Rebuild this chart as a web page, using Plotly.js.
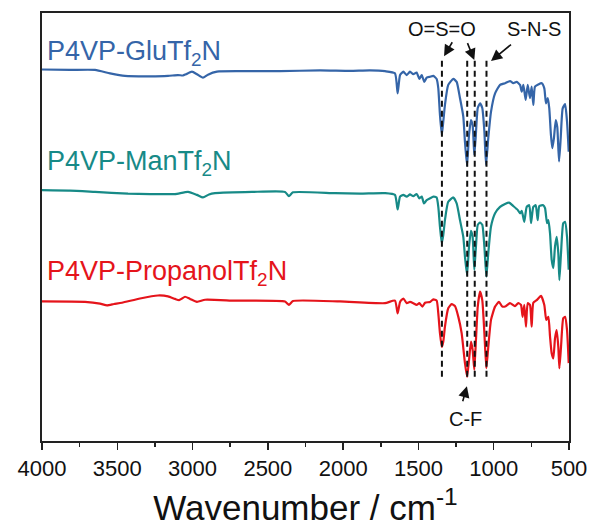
<!DOCTYPE html>
<html>
<head>
<meta charset="utf-8">
<script src="https://cdn.plot.ly/plotly-3.0.1.min.js"></script>
<style>
  html, body { margin: 0; padding: 0; background: #fff; }
  #chart { width: 595px; height: 529px; }
</style>
</head>
<body>
<div id="chart"></div>
<script>
// FTIR spectra of the three Tf2N polymers, stacked (transmittance, arbitrary units)
const seriesNames = ["P4VP-GluTf<sub>2</sub>N", "P4VP-ManTf<sub>2</sub>N", "P4VP-PropanolTf<sub>2</sub>N"];
const seriesColors = ["#3565a8", "#178a87", "#e5141b"];

const wnGlu = [4000, 3814, 3648, 3548, 3449, 3283, 3163, 3097, 3064, 3044, 3004, 2971, 2931, 2898, 2838, 2685, 2419, 2154, 1954, 1822, 1722,
  1656, 1638, 1622, 1600, 1578, 1556, 1534, 1512, 1494, 1478, 1461, 1445, 1423, 1401, 1379, 1368, 1357, 1345, 1335, 1324, 1302, 1268, 1246,
  1224, 1202, 1191, 1177, 1164, 1151, 1140, 1129, 1120, 1106, 1091, 1076, 1062, 1051, 1036, 1018, 991, 958, 925, 892, 870, 847, 825, 814,
  803, 788, 774, 759, 748, 737, 726, 704, 681, 664, 653, 641, 631, 620, 611, 600, 588, 578, 566, 555, 542, 526, 513, 502];
const tGlu = [86.8, 86.7, 86.7, 85.9, 85.3, 85.2, 85.3, 85.5, 85.4, 85.7, 86.3, 85.7, 84.9, 85.6, 86.3, 86.4, 86.4, 86.6, 86.5, 86.6, 86.4,
  85.9, 81.2, 85.5, 86.3, 85.5, 86.3, 85.7, 86.1, 84.6, 85.5, 83.9, 84.9, 85.1, 85.3, 84.6, 82.4, 76.2, 71.5, 74.6, 78.5, 83.2, 84.6, 83.9,
  80.1, 75.8, 69.9, 64.3, 71.5, 75.0, 73.8, 66.8, 70.8, 77.8, 78.9, 77.8, 72.3, 64.5, 70.8, 76.9, 81.2, 83.2, 83.6, 84.1, 83.6, 83.9, 83.2, 81.6,
  83.2, 79.7, 83.2, 80.1, 82.8, 78.5, 82.8, 83.3, 83.6, 82.4, 78.9, 80.1, 77.7, 71.5, 68.4, 70.8, 75.0, 73.4, 65.3, 70.8, 77.7, 78.7, 74.6, 67.6];

const wnMan = [4000, 3814, 3648, 3429, 3283, 3117, 3030, 2971, 2931, 2891, 2851, 2605, 2386, 2360, 2333, 2054, 1888, 1722,
  1656, 1638, 1622, 1600, 1578, 1556, 1534, 1512, 1494, 1478, 1463, 1445, 1423, 1401, 1379, 1368, 1357, 1345, 1335, 1324, 1302, 1268, 1246,
  1224, 1202, 1191, 1177, 1164, 1151, 1140, 1129, 1118, 1106, 1091, 1076, 1062, 1049, 1036, 1018, 991, 958, 925, 898, 870, 841, 825, 814,
  797, 781, 764, 752, 737, 721, 708, 697, 671, 659, 646, 637, 626, 615, 604, 593, 582, 571, 564, 553, 538, 526, 513, 502];
const tMan = [58.6, 58.5, 58.2, 57.8, 57.7, 57.7, 58.2, 57.5, 56.9, 57.6, 57.9, 58.2, 58.2, 57.2, 58.1, 57.9, 57.8, 57.9,
  57.5, 54.1, 57.1, 57.5, 57.1, 57.6, 57.2, 57.7, 56.7, 57.1, 55.5, 56.3, 56.7, 57.1, 56.9, 54.7, 50.1, 46.2, 48.1, 51.6, 55.9, 56.9, 55.5,
  51.6, 47.7, 43.1, 38.8, 45.4, 49.1, 47.7, 40.0, 45.4, 50.5, 51.0, 50.5, 45.4, 38.4, 43.9, 50.1, 53.2, 54.7, 55.4, 55.7, 54.9, 54.0, 53.2, 53.8,
  51.2, 54.7, 55.1, 50.9, 54.7, 55.1, 51.6, 54.9, 55.1, 54.4, 50.9, 51.6, 48.5, 42.3, 40.4, 45.4, 47.7, 43.9, 37.6, 43.9, 50.9, 51.2, 47.7, 40.0];

const wnProp = [4000, 3714, 3615, 3568, 3522, 3469, 3349, 3230, 3163, 3117, 3090, 3070, 3050, 3017, 2971, 2917, 2718, 2386, 2360, 2333, 2021, 1722,
  1656, 1638, 1622, 1600, 1578, 1556, 1534, 1512, 1494, 1474, 1456, 1423, 1401, 1379, 1368, 1357, 1345, 1335, 1324, 1302, 1279, 1257, 1235,
  1213, 1191, 1177, 1164, 1151, 1140, 1129, 1118, 1106, 1091, 1076, 1062, 1049, 1036, 1018, 991, 965, 943, 920, 892, 859, 837, 819, 808,
  797, 786, 774, 759, 748, 737, 715, 686, 664, 651, 637, 626, 615, 604, 593, 582, 571, 564, 553, 538, 526, 513, 502];
const tProp = [32.6, 32.5, 32.1, 31.7, 32.0, 32.3, 33.3, 34.0, 33.8, 33.2, 32.9, 33.3, 33.7, 33.2, 32.5, 33.0, 32.8, 32.6, 31.8, 32.7, 32.6, 32.2,
  32.8, 29.8, 32.5, 33.3, 32.2, 32.5, 32.2, 31.8, 32.2, 31.4, 32.3, 32.5, 33.1, 32.8, 29.8, 25.2, 22.0, 23.2, 26.7, 31.0, 32.0, 31.5, 29.0,
  25.2, 18.2, 15.0, 18.9, 23.2, 21.3, 16.6, 23.6, 31.4, 34.9, 32.9, 25.2, 17.0, 22.0, 28.3, 31.4, 32.5, 31.4, 31.5, 32.2, 31.5, 32.2, 31.8, 29.0,
  31.8, 26.7, 32.2, 31.8, 26.7, 32.3, 32.9, 33.9, 31.8, 28.3, 29.0, 24.4, 20.5, 19.3, 24.0, 25.9, 22.0, 17.0, 22.0, 28.7, 29.0, 25.9, 18.2];

// Band assignments marked with dashed guides
const bandWavenumbers = [1344, 1176, 1126, 1048];
const bandLabels = ["O=S=O", "S-N-S", "C-F"];

const xs = [wnGlu, wnMan, wnProp];
const ys = [tGlu, tMan, tProp];

const traces = xs.map((x, i) => ({
  x: x,
  y: ys[i],
  type: "scatter",
  mode: "lines",
  line: { color: seriesColors[i], width: 2.2, shape: "spline", smoothing: 0.5 },
  hoverinfo: "skip",
  showlegend: false
}));

const FONT = "'Liberation Sans', Arial, sans-serif";

// Guides span from just below the band labels down past the lowest spectrum
const shapes = bandWavenumbers.map(w => ({
  type: "line",
  xref: "x", yref: "paper",
  x0: w, x1: w, y0: 0.15, y1: 0.895,
  line: { color: "#111", width: 2, dash: "6px,4px" }
}));

const labelY = [0.906, 0.649, 0.392];
const annotations = seriesNames.map((t, i) => ({
  text: t,
  xref: "paper", yref: "paper",
  x: 0.006, y: labelY[i],
  xanchor: "left", yanchor: "middle",
  showarrow: false,
  font: { family: FONT, size: 27, color: seriesColors[i] }
}));

// band text labels
annotations.push(
  { text: bandLabels[0], xref: "x", yref: "paper", x: 1344, y: 0.963, xanchor: "center", yanchor: "middle",
    showarrow: false, font: { family: FONT, size: 20, color: "#111" } },
  { text: bandLabels[1], xref: "x", yref: "paper", x: 732, y: 0.963, xanchor: "center", yanchor: "middle",
    showarrow: false, font: { family: FONT, size: 20, color: "#111" } },
  { text: bandLabels[2], xref: "x", yref: "paper", x: 1187, y: 0.052, xanchor: "center", yanchor: "middle",
    showarrow: false, font: { family: FONT, size: 20, color: "#111" } }
);

// arrows pointing from the labels to the guides
const arrow = (x, y, ax, ay) => ({
  text: " ", xref: "x", yref: "paper", x: x, y: y, ax: ax, ay: ay,
  showarrow: true, arrowhead: 2, arrowsize: 1.4, arrowwidth: 1.6, arrowcolor: "#111",
  standoff: 0, startstandoff: 0, font: { size: 2 }
});
annotations.push(
  arrow(1330, 0.899, 10, -17),
  arrow(1129, 0.890, -8, -20),
  arrow(1018, 0.888, 22, -18),
  arrow(1178, 0.128, -5, 18)
);

const layout = {
  width: 595, height: 529,
  margin: { l: 42, r: 26, t: 13, b: 88 },
  paper_bgcolor: "#fff", plot_bgcolor: "#fff",
  showlegend: false,
  xaxis: {
    range: [4000, 500],
    tickmode: "array",
    tickvals: [4000, 3500, 3000, 2500, 2000, 1500, 1000, 500],
    ticktext: ["4000", "3500", "3000", "2500", "2000", "1500", "1000", "500"],
    ticks: "outside", ticklen: 7, tickwidth: 1.5, tickcolor: "#222",
    minor: { tickvals: [3750, 3250, 2750, 2250, 1750, 1250, 750], ticks: "outside", ticklen: 4, tickwidth: 1.5, tickcolor: "#222" },
    showline: true, linecolor: "#222", linewidth: 2, mirror: true,
    showgrid: false, zeroline: false,
    tickfont: { family: FONT, size: 22, color: "#111" },
    title: { text: "Wavenumber / cm<sup>-1</sup>", font: { family: FONT, size: 35, color: "#111" }, standoff: 15 }
  },
  yaxis: {
    range: [0, 100],
    showticklabels: false, ticks: "",
    showline: true, linecolor: "#222", linewidth: 2, mirror: true,
    showgrid: false, zeroline: false
  },
  shapes: shapes,
  annotations: annotations
};

Plotly.newPlot("chart", traces, layout, { staticPlot: true, displayModeBar: false });
</script>
</body>
</html>
